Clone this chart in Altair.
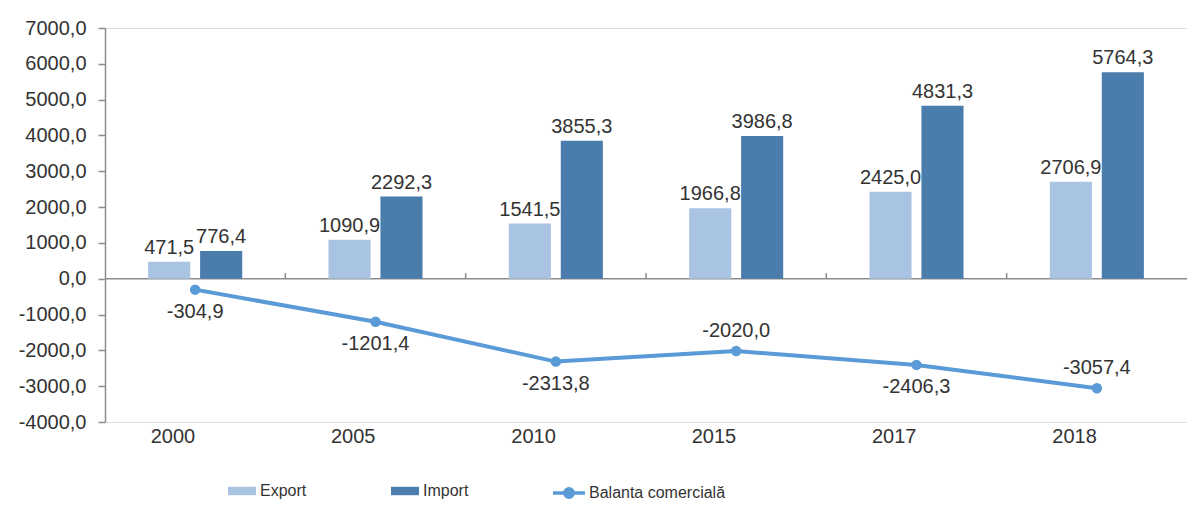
import altair as alt
import pandas as pd

years = ["2000", "2005", "2010", "2015", "2017", "2018"]
export_vals = [471.5, 1090.9, 1541.5, 1966.8, 2425.0, 2706.9]
import_vals = [776.4, 2292.3, 3855.3, 3986.8, 4831.3, 5764.3]
balance_vals = [-304.9, -1201.4, -2313.8, -2020.0, -2406.3, -3057.4]
series_names = ["Export", "Import"]
line_name = "Balanta comercială"
y_ticks = list(range(-4000, 8000, 1000))

# style: which balance labels sit above their point
labels_above = ["2015", "2018"]

C_EXP = "#A9C3E3"
C_IMP = "#4A7CAC"
C_LINE = "#5A9AD6"
TXT = "#333333"
AXC = "#8C8C8C"
FONT = "Liberation Sans"

FMT = "replace(replace(format({v}, '.1f'), '.', ','), '\u2212', '-')"

bars_df = pd.DataFrame({
    "year": years * 2,
    "series": [series_names[0]] * len(years) + [series_names[1]] * len(years),
    "value": export_vals + import_vals,
})
line_df = pd.DataFrame({"year": years, "value": balance_vals, "name": line_name})
line_df["above"] = line_df["year"].isin(labels_above)

x_enc = alt.X("year:N", sort=years,
              scale=alt.Scale(paddingInner=0, paddingOuter=0),
              axis=alt.Axis(title=None, domain=False, ticks=False, labelAngle=0,
                            labelFontSize=20, labelColor=TXT, labelPadding=14,
                            labelFont=FONT))
y_scale = alt.Scale(domain=[-4000, 7000], nice=False, zero=False)
y_axis = alt.Axis(title=None, grid=False, values=y_ticks,
                  labelExpr=FMT.format(v="datum.value"),
                  labelOverlap=False, labelFlush=False, labelBound=False,
                  labelFontSize=20, labelColor=TXT, labelFont=FONT,
                  domainColor=AXC, domainWidth=1.5, tickColor=AXC,
                  tickWidth=1.5, tickSize=7, labelPadding=12)
y_enc = alt.Y("value:Q", scale=y_scale, axis=y_axis)
xoff = alt.XOffset("series:N", sort=series_names,
                   scale=alt.Scale(paddingInner=0.19, paddingOuter=0.83))

bar_path = "M-1,-0.3H1V0.3H-1Z"
line_path = "M-1,0H1M-0.26,0A0.26,0.26 0 1,1 0.26,0A0.26,0.26 0 1,1 -0.26,0Z"

bars = alt.Chart(bars_df).mark_bar().encode(
    x=x_enc, xOffset=xoff, y=y_enc,
    color=alt.Color("series:N",
                    scale=alt.Scale(domain=series_names, range=[C_EXP, C_IMP]),
                    legend=alt.Legend(orient="none", legendX=123, legendY=449,
                                      direction="horizontal", title=None,
                                      symbolType=bar_path, symbolSize=784,
                                      symbolStrokeWidth=0, labelFontSize=16,
                                      labelColor=TXT, labelFont=FONT,
                                      columnPadding=84, labelOffset=4, padding=0)),
)

bar_text = alt.Chart(bars_df).transform_calculate(
    lbl=FMT.format(v="datum.value")
).mark_text(baseline="bottom", dy=-4, fontSize=20, color=TXT, font=FONT).encode(
    x=x_enc, xOffset=xoff, y=y_enc, text="lbl:N")

zero_rule = alt.Chart(pd.DataFrame({"value": [0]})).mark_rule(
    color=AXC, strokeWidth=1.5).encode(y=y_enc)

bound_ticks = alt.Chart(pd.DataFrame({"year": years[1:], "value": 0})).mark_rule(
    color=AXC, strokeWidth=1.5).encode(
    x=alt.X("year:N", sort=years, bandPosition=0),
    y=y_enc, y2=alt.datum(160))

line = alt.Chart(line_df).mark_line(strokeWidth=4).encode(
    x=x_enc, y=y_enc,
    color=alt.Color("name:N",
                    scale=alt.Scale(domain=[line_name], range=[C_LINE]),
                    legend=alt.Legend(orient="none", legendX=446, legendY=447,
                                      title=None, symbolType=line_path,
                                      symbolSize=1024, labelFontSize=16,
                                      labelColor=TXT, labelFont=FONT,
                                      labelOffset=2, padding=0,
                                      symbolFillColor=C_LINE,
                                      symbolStrokeColor=C_LINE,
                                      symbolStrokeWidth=3.5)),
)

points = alt.Chart(line_df).mark_circle(size=110, color=C_LINE, opacity=1).encode(
    x=x_enc, y=y_enc)

line_lbl_base = alt.Chart(line_df).transform_calculate(
    lbl=FMT.format(v="datum.value"))
lbl_below = line_lbl_base.transform_filter("!datum.above").mark_text(
    baseline="middle", dy=22, fontSize=20, color=TXT, font=FONT).encode(
    x=x_enc, y=y_enc, text="lbl:N")
lbl_above = line_lbl_base.transform_filter("datum.above").mark_text(
    baseline="middle", dy=-20, fontSize=20, color=TXT, font=FONT).encode(
    x=x_enc, y=y_enc, text="lbl:N")

chart = alt.layer(
    zero_rule, bound_ticks, bars, bar_text, line, points, lbl_below, lbl_above
).resolve_scale(color="independent").properties(
    width=1082, height=394,
    padding={"left": 97, "top": 20, "right": 0, "bottom": 84},
    autosize=alt.AutoSizeParams(type="none"),
).configure_view(stroke=None).configure(font=FONT, background="white")

chart.save("out.html", embed_options={"renderer": "svg", "actions": False})
